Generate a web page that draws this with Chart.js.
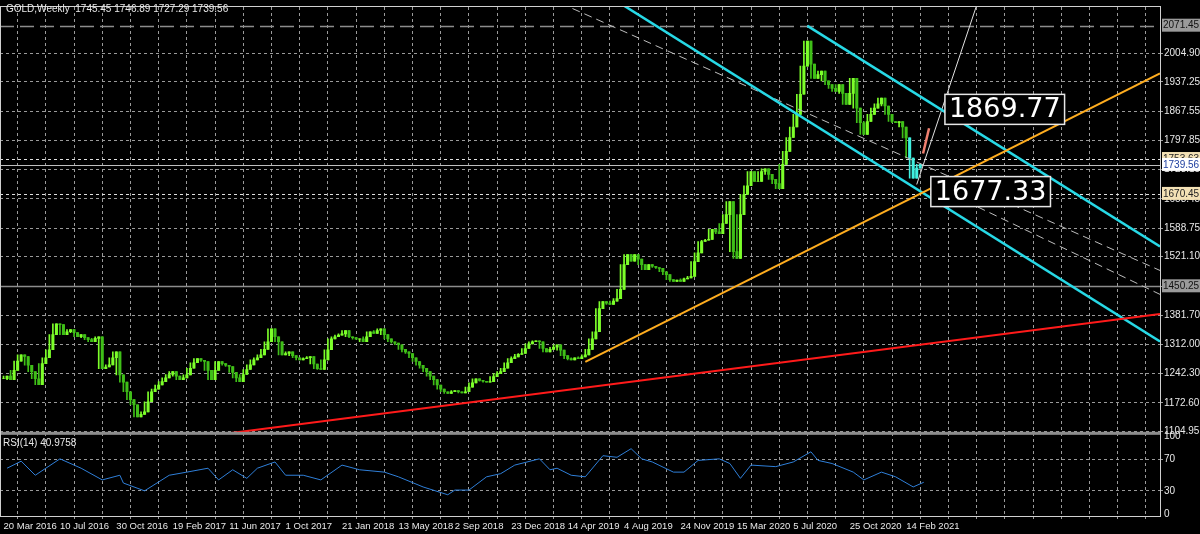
<!DOCTYPE html>
<html>
<head>
<meta charset="utf-8">
<script src="https://cdn.jsdelivr.net/npm/chart.js@4.4.1/dist/chart.umd.min.js"></script>
<style>
  html, body { margin: 0; padding: 0; background: #000; }
  #wrap { width: 1200px; height: 534px; }
</style>
</head>
<body>
<div id="wrap"><canvas id="gold"></canvas></div>
<script>
// weekly closes, week 0 = 20 Mar 2016
const closes = [
  1230,1236,1228,1250,1272,1287,1283,1262,1247,1230,
  1216,1266,1280,1299,1335,1361,1359,1335,1342,1347,
  1340,1330,1335,1328,1323,1318,1326,1330,1254,1258,
  1263,1280,1294,1239,1222,1199,1180,1168,1139,1145,
  1151,1175,1199,1205,1215,1223,1232,1240,1247,1236,
  1228,1232,1239,1255,1268,1278,1274,1271,1250,1228,
  1250,1271,1266,1262,1259,1245,1232,1223,1240,1252,
  1263,1275,1280,1287,1300,1318,1349,1330,1318,1287,
  1290,1294,1285,1280,1275,1278,1280,1283,1265,1254,
  1252,1275,1299,1325,1330,1334,1337,1345,1330,1328,
  1324,1325,1318,1330,1342,1338,1345,1349,1335,1325,
  1318,1315,1311,1300,1294,1290,1280,1271,1262,1255,
  1247,1236,1228,1215,1205,1199,1195,1199,1202,1199,
  1196,1199,1210,1220,1230,1226,1224,1222,1223,1235,
  1242,1247,1255,1268,1278,1282,1288,1290,1302,1313,
  1318,1320,1318,1302,1294,1300,1305,1311,1298,1285,
  1278,1275,1280,1278,1282,1287,1300,1325,1342,1397,
  1414,1410,1407,1415,1421,1443,1502,1526,1510,1526,
  1515,1502,1490,1502,1498,1495,1493,1485,1478,1466,
  1462,1465,1462,1468,1470,1474,1509,1530,1557,1560,
  1562,1586,1580,1576,1600,1621,1652,1533,1517,1621,
  1669,1690,1724,1700,1700,1724,1730,1717,1705,1695,
  1683,1741,1772,1805,1830,1860,1908,1975,2035,1980,
  1946,1955,1963,1940,1931,1922,1915,1931,1910,1884,
  1910,1946,1875,1840,1812,1843,1860,1875,1885,1899,
  1880,1860,1843,1840,1843,1830,1804,1756,1708,1732,
  1741
];
const highlightFrom = 257; // last candles drawn inside the cyan marker

const rsiWeeks  = [1,5,9,16,22,28,33,34,40,47,52,58,61,65,69,72,77,80,85,90,96,101,108,112,119,126,128,132,137,141,145,152,155,157,161,165,170,174,178,181,184,190,193,197,203,206,209,212,219,224,229,231,235,241,244,249,253,258,261];
const rsiValues = [59,68,50,71,59,44,50,40,30,50,54,59,44,57,46,59,67,50,50,44,63,57,54,48,35,25,31,31,48,52,63,71,57,59,50,48,75,73,84,71,67,54,54,69,71,65,46,63,61,67,80,69,65,54,44,54,48,35,41];

const dateLabels = ['20 Mar 2016','10 Jul 2016','30 Oct 2016','19 Feb 2017','11 Jun 2017','1 Oct 2017','21 Jan 2018','13 May 2018','2 Sep 2018','23 Dec 2018','14 Apr 2019','4 Aug 2019','24 Nov 2019','15 Mar 2020','5 Jul 2020','25 Oct 2020','14 Feb 2021'];
const priceTicks = [2004.90,1937.25,1867.55,1797.85,1728.15,1658.45,1588.75,1521.10,1450.25,1381.70,1312.00,1242.30,1172.60,1104.95];
const rsiTicks = [0,30,70,100];

// trend objects: [week, price] pairs
const redLine     = [[64, 1100], [328, 1384]];
const orangeLine  = [[165, 1270], [328, 1958]];
const cyanUpper   = [[228, 2071], [328, 1545]];
const cyanLower   = [[176, 2119], [328, 1319]];
const dashedA     = [[158, 2125], [328, 1488]];
const dashedB     = [[263, 1693], [328, 1431]];
const whiteRay    = [[259, 1693], [276.4, 2130]];
const salmonMark  = [[260.8, 1767], [262.5, 1827]];

// horizontal levels
const levelPrices = [2071.45, 1753.63, 1739.56, 1670.45, 1450.25];
const levelStyles = ['grayDash', 'dotted', 'solid', 'dotted', 'solidGray'];
const levelTags   = ['gray', 'beige', 'white', 'beige', 'gray'];

const boxTexts  = ['1869.77', '1677.33'];
const boxWeeks  = [267, 263];
const boxPrices = [1872, 1676];

const FONT = '"Liberation Sans", Arial, sans-serif';

const candles = closes.map((c, i) => ({ x: i, y: [i === 0 ? c : closes[i - 1], c] }));
// wick spans the neighbouring closes
const wicks = closes.map((c, i) => {
  const near = closes.slice(Math.max(0, i - 1), i + 2);
  return { x: i, y: [Math.min(...near), Math.max(...near)] };
});
const pts = arr => arr.map(p => ({ x: p[0], y: p[1] }));
const candleColor = (d, i) => i >= highlightFrom ? '#40f0e0' : d.y[1] >= d.y[0] ? '#7cff2a' : '#3fbf18';

function trend(data, color, width, dash) {
  return {
    type: 'line', data: pts(data), yAxisID: 'y', borderColor: color,
    borderWidth: width, borderDash: dash || [], pointRadius: 0, order: 1
  };
}

const overlay = {
  id: 'overlay',
  beforeDraw(chart) {
    const c = chart.ctx;
    c.save();
    c.fillStyle = '#000';
    c.fillRect(0, 0, chart.width, chart.height);
    c.restore();
  },
  beforeDatasetsDraw(chart) {
    const c = chart.ctx, a = chart.chartArea, y = chart.scales.y;
    c.save();
    levelPrices.forEach((p, i) => {
      const py = Math.round(y.getPixelForValue(p)) + 0.5;
      const s = levelStyles[i];
      c.lineWidth = (s === 'grayDash' || s === 'solidGray') ? 1.5 : 1;
      c.strokeStyle = s === 'solid' ? '#bfbfbf' : (s === 'solidGray' || s === 'grayDash') ? '#8c8c8c' : '#e0e0e0';
      c.setLineDash(s === 'grayDash' ? [14, 6] : s === 'dotted' ? [3, 3] : []);
      c.beginPath(); c.moveTo(a.left, py); c.lineTo(a.right, py); c.stroke();
    });
    c.restore();
  },
  afterDraw(chart) {
    const c = chart.ctx, a = chart.chartArea, y = chart.scales.y, x = chart.scales.x;
    c.save();
    const sep = y.bottom;
    c.fillStyle = '#8c8c8c';
    c.fillRect(a.left, sep - 1, a.right - a.left, 3);
    c.strokeStyle = '#d0d0d0'; c.lineWidth = 1;
    c.strokeRect(a.left + 0.5, a.top - 0.5, a.right - a.left, a.bottom - a.top + 1);
    // text boxes
    c.font = '27px "DejaVu Sans", sans-serif';
    c.textBaseline = 'middle';
    boxTexts.forEach((t, i) => {
      const bx = x.getPixelForValue(boxWeeks[i]);
      const by = y.getPixelForValue(boxPrices[i]);
      const w = c.measureText(t).width + 8;
      c.fillStyle = '#000';
      c.fillRect(bx, by - 15, w, 30);
      c.strokeStyle = '#e6e6e6'; c.lineWidth = 1.5;
      c.strokeRect(bx, by - 15, w, 30);
      c.fillStyle = '#fff';
      c.fillText(t, bx + 4, by + 1);
    });
    // price tags on axis
    c.font = '10px ' + FONT;
    levelPrices.forEach((p, i) => {
      const py = y.getPixelForValue(p);
      const tag = levelTags[i];
      c.fillStyle = tag === 'gray' ? '#9a9a9a' : tag === 'beige' ? '#f3e1b5' : '#ffffff';
      c.fillRect(a.right + 2, py - 7, 38, 13);
      c.fillStyle = tag === 'gray' ? '#111' : tag === 'beige' ? '#222' : '#2040a0';
      c.textAlign = 'left';
      c.fillText(p.toFixed(2), a.right + 3, py);
    });
    c.fillStyle = '#e8e8e8';
    c.textBaseline = 'top';
    c.fillText('GOLD,Weekly  1745.45 1746.89 1727.29 1739.56', a.left + 6, 4);
    c.fillText('RSI(14) 40.9758', a.left + 3, sep + 5);
    c.restore();
  }
};

new Chart(document.getElementById('gold'), {
  data: {
    datasets: [
      {
        type: 'bar', data: candles, yAxisID: 'y', order: 10, grouped: false,
        barThickness: 2.4, borderSkipped: false, borderWidth: 0,
        backgroundColor: candles.map(candleColor)
      },
      {
        type: 'bar', data: wicks, yAxisID: 'y', order: 11, grouped: false,
        barThickness: 1, borderSkipped: false, borderWidth: 0,
        backgroundColor: candles.map(candleColor)
      },
      trend(redLine, '#ff1a1a', 2),
      trend(orangeLine, '#ffad1f', 2),
      trend(cyanUpper, '#27d9e6', 2.5),
      trend(cyanLower, '#27d9e6', 2.5),
      trend(dashedA, '#bdbdbd', 1, [8, 5]),
      trend(dashedB, '#bdbdbd', 1, [8, 5]),
      trend(whiteRay, '#e0e0e0', 1),
      trend(salmonMark, '#f08070', 2.5),
      {
        type: 'line', data: rsiWeeks.map((w, i) => ({ x: w, y: rsiValues[i] })),
        yAxisID: 'yr', borderColor: '#2f7fd8', borderWidth: 1, pointRadius: 0, order: 1
      }
    ]
  },
  options: {
    responsive: true,
    maintainAspectRatio: false,
    animation: false,
    layout: { padding: { top: 6, left: 0, right: 0, bottom: 0 } },
    plugins: { legend: { display: false }, tooltip: { enabled: false } },
    scales: {
      x: {
        type: 'linear', min: -1, max: 328, offset: false,
        afterBuildTicks: s => { s.ticks = []; for (let v = 0; v <= 320; v += 8) s.ticks.push({ value: v }); },
        afterFit: s => { s.height = 18; },
        grid: { color: '#9a9a9a', tickLength: 3 },
        border: { dash: [3, 3], display: false },
        ticks: {
          autoSkip: false, maxRotation: 0, align: 'start', padding: 2,
          color: '#e8e8e8', font: { family: FONT, size: 9.5 },
          callback: v => (v % 16 === 0 && dateLabels[v / 16]) ? dateLabels[v / 16] : ''
        }
      },
      y: {
        type: 'linear', position: 'right', stack: 'panels', stackWeight: 5.12,
        min: 1101, max: 2116,
        afterBuildTicks: s => { s.ticks = priceTicks.map(v => ({ value: v })); },
        afterFit: s => { s.width = 40; },
        grid: { color: '#9a9a9a', tickLength: 3 },
        border: { dash: [3, 3], display: false },
        ticks: {
          autoSkip: false, padding: 1, color: '#e8e8e8',
          font: { family: FONT, size: 10 },
          callback: v => v.toFixed(2)
        }
      },
      yr: {
        type: 'linear', position: 'right', stack: 'panels', stackWeight: 1,
        min: -2.2, max: 104.3,
        afterBuildTicks: s => { s.ticks = rsiTicks.map(v => ({ value: v })); },
        afterFit: s => { s.width = 40; },
        grid: { color: ctx => (ctx.tick && (ctx.tick.value === 30 || ctx.tick.value === 70)) ? '#9a9a9a' : 'rgba(0,0,0,0)', tickLength: 3 },
        border: { dash: [3, 3], display: false },
        ticks: {
          autoSkip: false, padding: 1, color: '#e8e8e8',
          font: { family: FONT, size: 10 }
        }
      }
    }
  },
  plugins: [overlay]
});
</script>
</body>
</html>
